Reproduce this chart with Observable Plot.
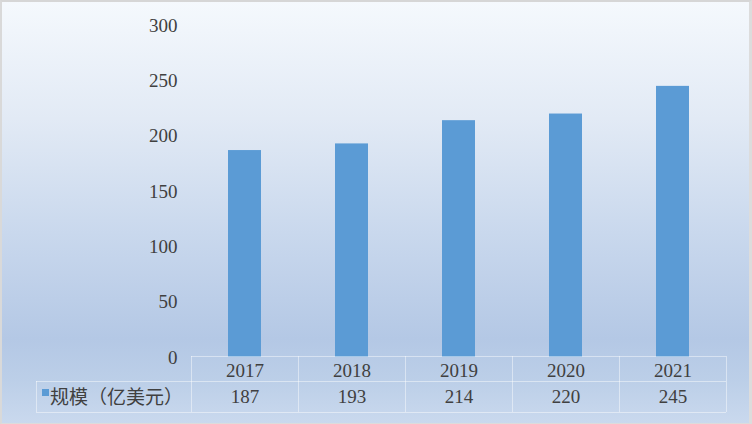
<!DOCTYPE html>
<html><head><meta charset="utf-8">
<script src="https://cdn.jsdelivr.net/npm/d3@7"></script>
<script src="https://cdn.jsdelivr.net/npm/@observablehq/plot@0.6"></script>
<style>
html,body{margin:0;padding:0;}
#wrap{position:relative;width:752px;height:424px;overflow:hidden;
 background:linear-gradient(180deg,#f5f9fd 0%,#e2eaf5 28%,#c9d8ed 55%,#b4c8e5 80%,#bccfe8 90%,#cad9ee 100%);}
#wrap svg{position:absolute;left:0;top:0;background:transparent;}
#border{position:absolute;left:0;top:0;width:752px;height:424px;box-sizing:border-box;
 border-top:2px solid #d6d6d6;border-left:2px solid #d9d9d9;border-right:3px solid #dcdcdc;border-bottom:1px solid #dcdcdc;pointer-events:none;}
</style></head>
<body><div id="wrap"><div id="border"></div></div>
<script>
const years = ["2017","2018","2019","2020","2021"];
const values = [187,193,214,220,245];
const seriesName = "规模（亿美元）";
const yTicks = [0,50,100,150,200,250,300];

const barColor = "#5b9bd5";
const textColor = "#404040";
const numFont = "'Liberation Serif', 'DejaVu Serif', serif";
const cjkFont = "'Noto Sans CJK SC', sans-serif";

const data = years.map((y,i)=>({year:y, value:values[i]}));

const chart = Plot.plot({
  width: 752, height: 424,
  marginLeft: 190, marginRight: 24, marginTop: 25, marginBottom: 67,
  style: {background: "transparent", fontFamily: numFont, fontSize: "19px", color: textColor},
  x: {domain: years, paddingInner: 0.69, paddingOuter: 0.345, axis: null},
  y: {domain: [0,300], ticks: yTicks, axis: null},
  marks: [
    Plot.axisY({ticks: yTicks, tickSize: 0, tickPadding: 13, label: null, fill: textColor, fontSize: 19}),
    Plot.barY(data, {x: "year", y: "value", fill: barColor}),
    Plot.text(data, {x: "year", y: () => 0, text: "year", dy: 13, fill: textColor, fontSize: 19, fontFamily: numFont}),
    Plot.text(data, {x: "year", y: () => 0, text: d => String(d.value), dy: 39, fill: textColor, fontSize: 19, fontFamily: numFont})
  ]
});
document.getElementById("wrap").insertBefore(chart, document.getElementById("border"));

// data table grid and legend key, positioned from the plot's scales
const xs = chart.scale("x"), ys = chart.scale("y");
const step = xs.step, bw = xs.bandwidth;
const svg = d3.select(chart);
const y0 = ys.apply(0) - 1, y1 = y0 + 25, y2 = y1 + 31;
const edges = years.map(c => xs.apply(c) - (step - bw)/2);
const right = edges[edges.length-1] + step;
const tableLeft = 36;
const g = svg.append("g").attr("stroke", "#ffffff").attr("stroke-opacity", 0.45).attr("stroke-width", 1);
g.append("line").attr("x1", edges[0]).attr("x2", right).attr("y1", y0+0.5).attr("y2", y0+0.5);
g.append("line").attr("x1", tableLeft).attr("x2", right).attr("y1", y1+0.5).attr("y2", y1+0.5);
g.append("line").attr("x1", tableLeft).attr("x2", right).attr("y1", y2+0.5).attr("y2", y2+0.5);
g.append("line").attr("x1", tableLeft+0.5).attr("x2", tableLeft+0.5).attr("y1", y1).attr("y2", y2);
[...edges, right].forEach(e => g.append("line").attr("x1", Math.round(e)+0.5).attr("x2", Math.round(e)+0.5).attr("y1", y0).attr("y2", y2));
svg.append("rect").attr("x", 42).attr("y", y1+8).attr("width", 7).attr("height", 7).attr("fill", barColor);
svg.append("text").attr("x", 50).attr("y", (y1+y2)/2 + 1).attr("dy", "0.36em").attr("text-anchor", "start")
  .attr("font-family", cjkFont).attr("font-size", 19).attr("fill", textColor)
  .attr("textLength", 133).attr("lengthAdjust", "spacing").text(seriesName);
</script>
</body></html>
